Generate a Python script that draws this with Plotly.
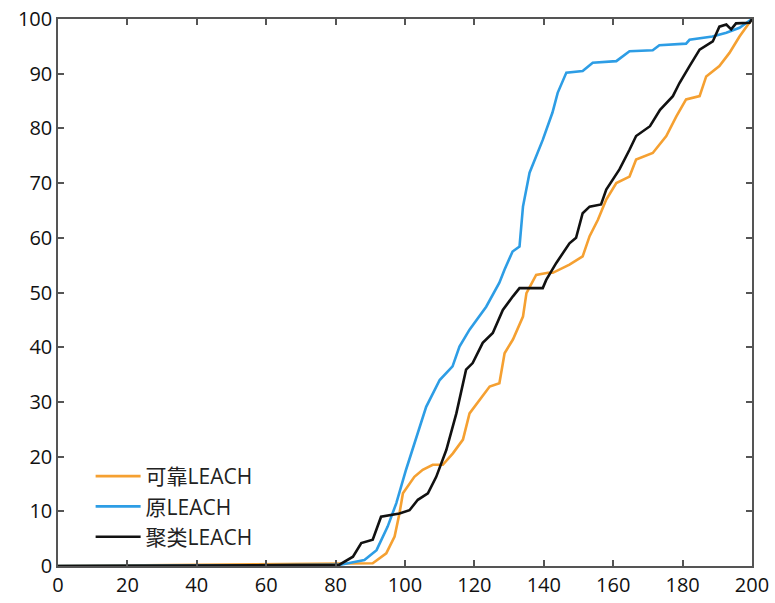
import plotly.graph_objects as go

# 可靠LEACH (orange)
rel_x = [0, 90.7, 94.6, 97, 98.4, 99.4, 102.7, 105.1, 108, 110.9, 113.8, 116.7, 118.6, 121.5, 124.4, 127.2,
         128.7, 131.1, 134, 135, 137.8, 141.2, 142.6, 147.4, 151.2, 153.2, 155.6, 158, 160.9, 164.7, 166.6,
         171.4, 175.3, 178.2, 181, 184.9, 186.8, 190.6, 193.5, 196.4, 200]
rel_y = [0, 0.5, 2.3, 5.4, 9.6, 13.3, 16.3, 17.6, 18.5, 18.5, 20.6, 23.1, 27.9, 30.4, 32.8, 33.4,
         38.9, 41.4, 45.6, 49.9, 53.2, 53.6, 53.6, 55.1, 56.6, 60.3, 63.3, 67, 70, 71.2, 74.3,
         75.5, 78.6, 82.2, 85.3, 85.9, 89.5, 91.4, 93.8, 96.8, 100]

# 原LEACH (blue)
orig_x = [0, 81.1, 88.3, 91.8, 95, 97.5, 100.3, 102.7, 106.1, 110, 113.7, 115.7, 118.6, 123.4, 127.2,
          128.7, 131, 133, 134, 135.9, 139.7, 142.5, 144, 146.5, 151.2, 154.1, 160.9, 164.7, 171.4, 173.3,
          181, 182, 188.6, 192.6, 196.4, 200]
orig_y = [0, 0.2, 1.1, 2.9, 7.2, 11.5, 17.6, 22.5, 29.1, 34, 36.5, 40.1, 43.2, 47.4, 51.8,
          54.2, 57.5, 58.4, 65.7, 71.9, 77.9, 82.9, 86.5, 90.2, 90.5, 92, 92.3, 94.1, 94.3, 95.2,
          95.5, 96.2, 96.8, 97.5, 98.4, 100]

# 聚类LEACH (black)
clu_x = [0, 81, 85, 87.4, 90.7, 93.1, 98.4, 101.3, 103.7, 106.6, 109, 111.9, 114.8, 117.6, 119.5, 122.4,
         125.3, 128.2, 131.1, 133, 139.7, 140.7, 143.6, 147.4, 149.3, 151.2, 153.2, 156.5, 158, 161.8,
         164.7, 166.6, 170.6, 173.5, 177.2, 179.1, 182, 184.9, 188.7, 190.6, 192.6, 194, 195.4, 199.3, 200]
clu_y = [0, 0.2, 1.7, 4.2, 4.8, 9, 9.6, 10.2, 12.1, 13.3, 16.3, 21.2, 27.9, 35.9, 37.1, 40.8,
         42.6, 46.8, 49.3, 50.8, 50.8, 52.3, 55.4, 59, 60, 64.5, 65.7, 66.1, 68.8, 72.5,
         76.1, 78.6, 80.4, 83.4, 85.9, 88.3, 91.4, 94.4, 95.9, 98.6, 99, 98.1, 99.2, 99.3, 100]

names = ["可靠LEACH", "原LEACH", "聚类LEACH"]
colors = ["#F5A031", "#2D9DE5", "#111111"]

fig = go.Figure()
for xs, ys, nm, c in [(rel_x, rel_y, names[0], colors[0]),
                      (orig_x, orig_y, names[1], colors[1]),
                      (clu_x, clu_y, names[2], colors[2])]:
    fig.add_trace(go.Scatter(x=xs, y=ys, mode="lines", name=nm,
                             line=dict(color=c, width=2.6)))

axis_common = dict(showgrid=False, zeroline=False, showline=True, linecolor="#555",
                   linewidth=1.5, mirror="ticks", ticks="inside", ticklen=6,
                   tickcolor="#555", tickwidth=1.5, automargin=False,
                   tickfont=dict(family="Open Sans, Noto Sans CJK SC", size=20, color="#111"))

fig.update_layout(
    width=775, height=603,
    margin=dict(l=58, r=23, t=19, b=37),
    paper_bgcolor="white", plot_bgcolor="white",
    xaxis=dict(range=[0, 200], dtick=20, **axis_common),
    yaxis=dict(range=[0, 100], dtick=10, **axis_common),
    legend=dict(x=0.047, y=0.0165, xanchor="left", yanchor="bottom",
                bgcolor="rgba(0,0,0,0)", itemwidth=45,
                font=dict(family="Open Sans, Noto Sans CJK SC", size=21, color="#222"),
                tracegroupgap=0),
    showlegend=True,
)

fig.write_html("out.html", config={"displayModeBar": False},
               post_script="document.body.style.margin='0';document.body.style.overflow='hidden';")
